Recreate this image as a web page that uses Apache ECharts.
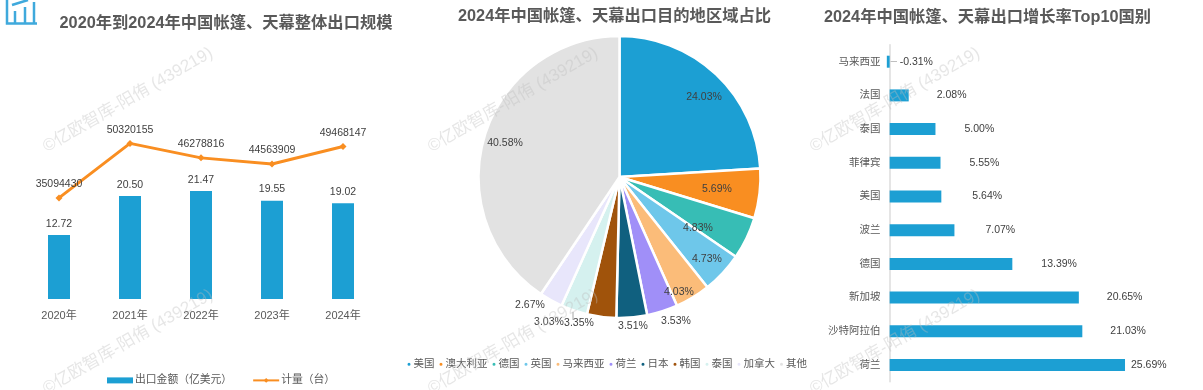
<!DOCTYPE html>
<html>
<head>
<meta charset="utf-8">
<style>
  html, body { margin: 0; padding: 0; background: #fff; }
  #chart { width: 1203px; height: 390px; }
</style>
<script src="https://cdn.jsdelivr.net/npm/echarts@6/dist/echarts.min.js"></script>
</head>
<body>
<div id="chart"></div>
<script>
const FONT = '"Liberation Sans", "Noto Sans CJK SC", sans-serif'
const COLOR_BLUE = '#1c9fd3'
const COLOR_ORANGE = '#f98e21'
const COLOR_ICON = '#3fa9dc'
const COLOR_LABEL = '#404040'
const COLOR_AXIS_TEXT = '#595959'

// Export size by year
const years = ['2020年', '2021年', '2022年', '2023年', '2024年']
const exportValue = [12.72, 20.50, 21.47, 19.55, 19.02]
const exportUnits = [35094430, 50320155, 46278816, 44563909, 49468147]

// Destination share
const shareNames = ['美国', '澳大利亚', '德国', '英国', '马来西亚', '荷兰', '日本', '韩国', '泰国', '加拿大', '其他']
const shareValues = [24.03, 5.69, 4.83, 4.73, 4.03, 3.53, 3.51, 3.35, 3.03, 2.67, 40.58]
const shareColors = ['#1c9fd3', '#f98e21', '#37bdb5', '#6ec7ea', '#fbbc79', '#a08ff8', '#10607f', '#a0530b', '#d5f1ef', '#e8e6fb', '#e2e2e2']

// Growth top 10
const growthNames = ['马来西亚', '法国', '泰国', '菲律宾', '美国', '波兰', '德国', '新加坡', '沙特阿拉伯', '荷兰']
const growthValues = [-0.31, 2.08, 5.00, 5.55, 5.64, 7.07, 13.39, 20.65, 21.03, 25.69]

// Hand placed pie labels, the source chart had them dragged around
const PIE_LABEL_POS = [[704, 97], [717, 189], [698, 228], [707, 259], [679, 292], [676, 321], [633, 326], [579, 323], [549, 322], [530, 305], [505, 143]]
// Gap between bar end and its label
const GROWTH_LABEL_GAP = [10, 28, 29, 29, 31, 31, 29, 28, 28, 6]

const WATERMARK = '©亿欧智库-阳侑 (439219)'
const WATERMARK_POS = [[128, 100], [128, 342], [513, 100], [513, 342], [895, 100], [895, 342]]

const chart = echarts.init(document.getElementById('chart'))

const titleStyle = { fontFamily: FONT, fontSize: 16.3, fontWeight: 'bold', color: '#595959' }
const labelStyle = { fontFamily: FONT, fontSize: 10.5, color: COLOR_LABEL }

const iconLine = (x1, y1, x2, y2) => ({
  type: 'line',
  z: 5,
  shape: { x1, y1, x2, y2 },
  style: { stroke: COLOR_ICON, lineWidth: 2.5 },
})

chart.setOption({
  animation: false,
  backgroundColor: '#fff',
  textStyle: { fontFamily: FONT },
  title: [
    { text: '2020年到2024年中国帐篷、天幕整体出口规模', left: 221, top: 10, textAlign: 'center', textStyle: titleStyle },
    { text: '2024年中国帐篷、天幕出口目的地区域占比', left: 609.5, top: 3, textAlign: 'center', textStyle: titleStyle },
    { text: '2024年中国帐篷、天幕出口增长率Top10国别', left: 982.5, top: 4, textAlign: 'center', textStyle: titleStyle },
  ],
  legend: [
    {
      data: [{ name: '出口金额（亿美元）', icon: 'rect' }, { name: '计量（台）' }],
      left: 102,
      top: 370,
      itemWidth: 26,
      itemHeight: 6,
      itemGap: 20,
      textStyle: { fontFamily: FONT, fontSize: 10.8, color: COLOR_AXIS_TEXT, padding: [0, 0, 0, -3] },
    },
    {
      data: shareNames,
      left: 400.5,
      top: 354,
      icon: 'circle',
      itemWidth: 5,
      itemHeight: 5,
      itemGap: 3,
      textStyle: { fontFamily: FONT, fontSize: 10.5, color: COLOR_AXIS_TEXT, padding: [0, 0, 0, -3] },
    },
  ],
  grid: [
    { left: 23.5, width: 355, top: 47.5, height: 251.5 },
    { left: 880.5, width: 284, top: 44.85, height: 337 },
  ],
  xAxis: [
    {
      gridIndex: 0,
      type: 'category',
      data: years,
      axisLine: { show: false },
      axisTick: { show: false },
      axisLabel: { fontFamily: FONT, fontSize: 11, color: COLOR_AXIS_TEXT, margin: 11 },
    },
    { gridIndex: 1, type: 'value', min: -1, max: 30, show: false },
  ],
  yAxis: [
    { gridIndex: 0, type: 'value', min: 0, max: 50, show: false },
    { gridIndex: 0, type: 'value', min: 6870000, max: 77100000, show: false },
    {
      gridIndex: 1,
      type: 'category',
      inverse: true,
      data: growthNames,
      axisLine: { show: true, onZero: true, lineStyle: { color: '#dcdcdc', width: 1.5 } },
      axisTick: { show: false },
      axisLabel: { fontFamily: FONT, fontSize: 10.5, color: COLOR_AXIS_TEXT, margin: 0 },
    },
  ],
  series: [
    {
      name: '出口金额（亿美元）',
      type: 'bar',
      xAxisIndex: 0,
      yAxisIndex: 0,
      barWidth: 22,
      itemStyle: { color: COLOR_BLUE },
      label: {
        show: true,
        position: 'top',
        distance: 6,
        ...labelStyle,
        formatter: (p) => p.value.toFixed(2),
      },
      data: exportValue,
      z: 2,
    },
    {
      name: '计量（台）',
      type: 'line',
      xAxisIndex: 0,
      yAxisIndex: 1,
      symbol: 'diamond',
      symbolSize: 7,
      lineStyle: { color: COLOR_ORANGE, width: 3 },
      itemStyle: { color: COLOR_ORANGE },
      label: { show: true, position: 'top', distance: 5, ...labelStyle },
      data: exportUnits,
      z: 3,
    },
    {
      name: '占比',
      type: 'pie',
      center: [619.5, 177],
      radius: [0, 141],
      startAngle: 90,
      clockwise: true,
      itemStyle: { borderColor: '#fff', borderWidth: 2.5 },
      label: {
        show: true,
        ...labelStyle,
        formatter: (p) => p.value.toFixed(2) + '%',
      },
      labelLine: { show: false },
      labelLayout: (p) => ({
        x: PIE_LABEL_POS[p.dataIndex][0],
        y: PIE_LABEL_POS[p.dataIndex][1],
        align: 'center',
        verticalAlign: 'middle',
      }),
      data: shareNames.map((name, i) => ({
        name,
        value: shareValues[i],
        itemStyle: { color: shareColors[i] },
      })),
    },
    {
      name: '增长率',
      type: 'bar',
      xAxisIndex: 1,
      yAxisIndex: 2,
      barWidth: 12,
      itemStyle: { color: COLOR_BLUE },
      data: growthValues.map((v, i) => ({
        value: v,
        label: {
          show: true,
          position: 'right',
          distance: GROWTH_LABEL_GAP[i],
          ...labelStyle,
          formatter: (p) => p.value.toFixed(2) + '%',
        },
      })),
      // short leader from the negative bar to its label
      markLine: {
        silent: true,
        symbol: 'none',
        label: { show: false },
        lineStyle: { color: '#bfbfbf', width: 1, type: 'solid' },
        data: [[{ coord: [0.1, growthNames[0]] }, { coord: [0.8, growthNames[0]] }]],
      },
    },
  ],
  graphic: [
    // corner icon
    {
      type: 'polyline',
      z: 5,
      shape: { points: [[7, 0], [7, 23.5], [37, 23.5]] },
      style: { fill: 'none', stroke: COLOR_ICON, lineWidth: 2.5 },
    },
    iconLine(15, 23, 15, 11),
    iconLine(25, 23, 25, 7),
    iconLine(34, 23, 34, 2),
    iconLine(12, 5, 28, 0),
    // leader of the 泰国 label
    { type: 'line', z: 5, shape: { x1: 573, y1: 312, x2: 573, y2: 320 }, style: { stroke: '#a6a6a6', lineWidth: 1 } },
    // watermarks
    ...WATERMARK_POS.map(([x, y]) => ({
      type: 'text',
      z: 100,
      x,
      y,
      rotation: Math.PI / 6,
      silent: true,
      style: {
        text: WATERMARK,
        fontFamily: FONT,
        fontSize: 17,
        fill: 'rgba(190,190,190,0.38)',
        align: 'center',
        verticalAlign: 'middle',
      },
    })),
  ],
})

window.addEventListener('resize', () => chart.resize())
</script>
</body>
</html>
